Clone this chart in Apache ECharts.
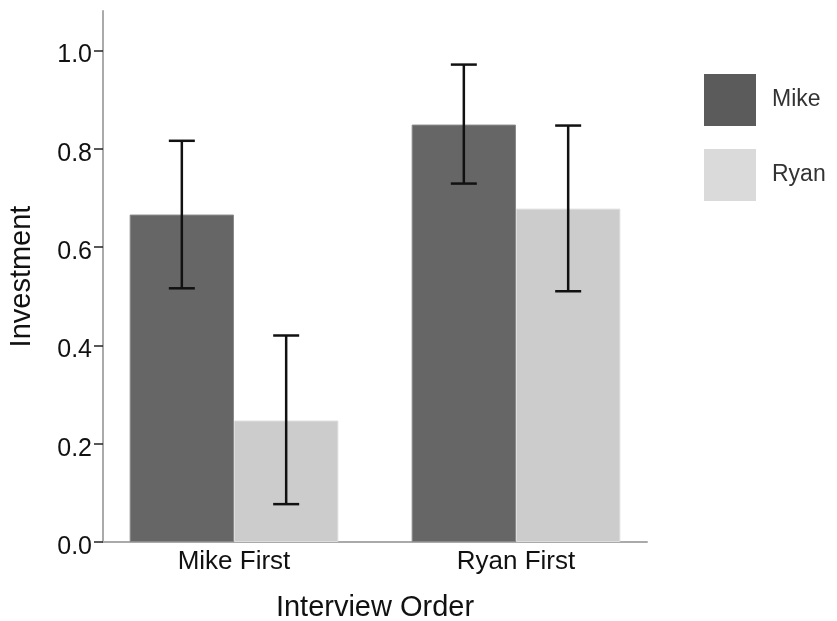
<!DOCTYPE html>
<html>
<head>
<meta charset="utf-8">
<script src="https://cdn.jsdelivr.net/npm/echarts@6/dist/echarts.min.js"></script>
<style>html,body{margin:0;padding:0;background:#fff}#c{width:837px;height:621px}</style>
</head>
<body>
<div id="c"></div>
<script>
const categories = ['Mike First', 'Ryan First'];
const seriesNames = ['Mike', 'Ryan'];
const mikeValues = [0.666, 0.849];
const ryanValues = [0.247, 0.678];
const mikeLow = [0.516, 0.729];
const mikeHigh = [0.816, 0.971];
const ryanLow = [0.077, 0.510];
const ryanHigh = [0.420, 0.847];
const yTicks = [0, 0.2, 0.4, 0.6, 0.8, 1.0];

const FONT = 'Liberation Sans, Arial, sans-serif';
const barGapRatio = 0.26;
const barShare = (1 - barGapRatio) / 2;

function errData(low, high, sIdx) {
  return categories.map((c, i) => [i, low[i], high[i], sIdx]);
}

const chart = echarts.init(document.getElementById('c'), null, {renderer: 'canvas'});
chart.setOption({
  animation: false,
  backgroundColor: '#ffffff',
  grid: [
    {left: 103, top: 11, width: 544, bottom: 79, containLabel: false, outerBoundsMode: 'none'},
    {left: 93, top: 11, width: 564, bottom: 79, containLabel: false, outerBoundsMode: 'none'}
  ],
  legend: {
    orient: 'vertical', left: 704, top: 74, padding: 0,
    itemWidth: 52, itemHeight: 52, itemGap: 23, icon: 'rect',
    textStyle: {fontFamily: FONT, fontSize: 23, color: '#333', padding: [0, 0, 0, 11]},
    data: [
      {name: 'Mike', itemStyle: {color: '#5b5b5b', borderWidth: 0}},
      {name: 'Ryan', itemStyle: {color: '#dadada', borderWidth: 0}}
    ]
  },
  xAxis: [
    {gridIndex: 0, type: 'category', data: categories,
     axisLine: {show: true, lineStyle: {color: '#aaaaaa', width: 2}},
     axisTick: {show: false}, axisLabel: {show: false}},
    {gridIndex: 1, type: 'category', data: categories,
     axisLine: {show: false}, axisTick: {show: false},
     axisLabel: {fontFamily: FONT, fontSize: 26, color: '#111', margin: 7},
     name: 'Interview Order', nameLocation: 'middle', nameGap: 51,
     nameTextStyle: {fontFamily: FONT, fontSize: 29, color: '#111'}}
  ],
  yAxis: [
    {gridIndex: 0, type: 'value', min: 0, max: 1.08,
     splitLine: {show: false},
     axisLine: {show: true, lineStyle: {color: '#aaaaaa', width: 2}},
     axisTick: {show: true, length: 9, customValues: yTicks, lineStyle: {color: '#222', width: 1.5}},
     axisLabel: {customValues: yTicks, fontFamily: FONT, fontSize: 25, color: '#111', margin: 11,
                 verticalAlign: 'top', lineHeight: 10, formatter: v => v.toFixed(1)},
     name: 'Investment', nameLocation: 'middle', nameGap: 67, nameRotate: 90,
     nameTextStyle: {fontFamily: FONT, fontSize: 29, color: '#111'}},
    {gridIndex: 1, type: 'value', min: 0, max: 1.08, show: false, splitLine: {show: false}}
  ],
  series: [
    {name: 'Mike', type: 'bar', xAxisIndex: 1, yAxisIndex: 1, data: mikeValues,
     barGap: '0%', barCategoryGap: (barGapRatio * 100) + '%',
     itemStyle: {color: '#666666', borderColor: '#8a8a8a', borderWidth: 1}},
    {name: 'Ryan', type: 'bar', xAxisIndex: 1, yAxisIndex: 1, data: ryanValues,
     barGap: '0%', barCategoryGap: (barGapRatio * 100) + '%',
     itemStyle: {color: '#cccccc', borderColor: '#dddddd', borderWidth: 1}},
    {type: 'custom', xAxisIndex: 1, yAxisIndex: 1, z: 10,
     data: errData(mikeLow, mikeHigh, 0).concat(errData(ryanLow, ryanHigh, 1)),
     renderItem: function (params, api) {
       const ci = api.value(0), lo = api.value(1), hi = api.value(2), s = api.value(3);
       const band = api.size([1, 0])[0];
       const off = (s === 0 ? -1 : 1) * band * barShare / 2;
       const pLo = api.coord([ci, lo]);
       const pHi = api.coord([ci, hi]);
       const x = pLo[0] + off;
       const hw = 13;
       const st = {stroke: '#111', lineWidth: 2.5, fill: null};
       return {type: 'group', children: [
         {type: 'line', shape: {x1: x, y1: pHi[1], x2: x, y2: pLo[1]}, style: st},
         {type: 'line', shape: {x1: x - hw, y1: pHi[1], x2: x + hw, y2: pHi[1]}, style: st},
         {type: 'line', shape: {x1: x - hw, y1: pLo[1], x2: x + hw, y2: pLo[1]}, style: st}
       ]};
     }}
  ]
});
</script>
</body>
</html>
